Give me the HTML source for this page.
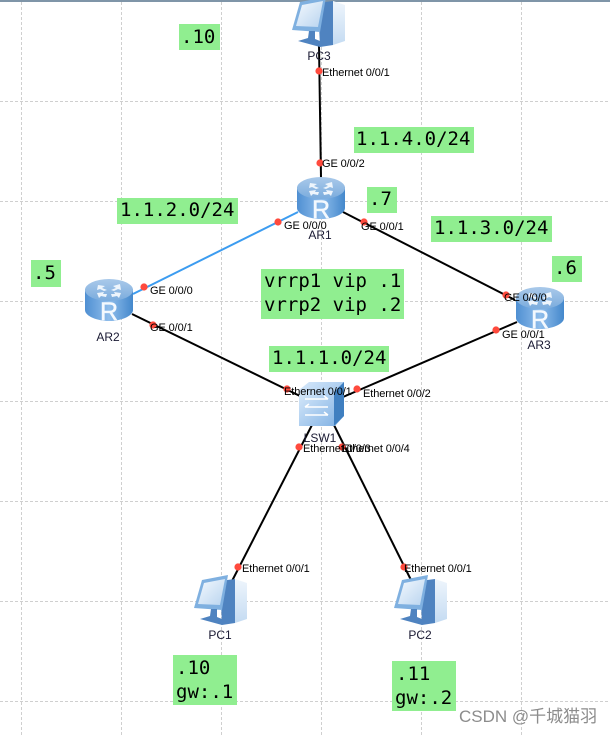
<!DOCTYPE html>
<html><head><meta charset="utf-8"><style>
html,body{margin:0;padding:0;background:#fff}
#c{position:relative;width:610px;height:735px;overflow:hidden}
svg{position:absolute;left:0;top:0}
.p{font-family:"Liberation Sans",sans-serif;font-size:11px;fill:#000;letter-spacing:-.1px}
.n{font-family:"Liberation Sans",sans-serif;font-size:12px;fill:#1a1a33}
.m{font-family:"DejaVu Sans Mono","Liberation Mono",monospace;font-size:19px;fill:#000}
.w{font-family:"Liberation Sans","Noto Sans CJK SC",sans-serif;font-size:17px;fill:#8c8c8c}
</style></head><body><div id="c">
<svg width="610" height="735" viewBox="0 0 610 735" xmlns="http://www.w3.org/2000/svg">
<defs>
<linearGradient id="rs" x1="0" x2="1" y1="0" y2="0"><stop offset="0" stop-color="#4f8fd2"/><stop offset=".5" stop-color="#8fbdeb"/><stop offset="1" stop-color="#4488cc"/></linearGradient>
<linearGradient id="rt" x1="0" x2="0" y1="0" y2="1"><stop offset="0" stop-color="#a9c9ea"/><stop offset="1" stop-color="#7bacdd"/></linearGradient>
<linearGradient id="sc" x1="0" x2="1" y1="0" y2="1"><stop offset="0" stop-color="#d6e8fa"/><stop offset="1" stop-color="#86b5e5"/></linearGradient>
<linearGradient id="tw" x1="0" x2="0" y1="0" y2="1"><stop offset="0" stop-color="#eef5fc"/><stop offset="1" stop-color="#c4dbf2"/></linearGradient>
<linearGradient id="scr" x1="0" x2="1" y1="0" y2="1"><stop offset="0" stop-color="#f4f9fe"/><stop offset="1" stop-color="#b9d4ef"/></linearGradient>
<g id="router">
<path d="M-24,-11 V10 C-24,16 -12,21 0,21 C12,21 24,16 24,10 V-11 Z" fill="url(#rs)"/>
<ellipse cx="0" cy="-10" rx="24" ry="11" fill="url(#rt)"/>
<path d="M-11,-15 L-4,-14 L-7,-12 L-2,-10 L-5,-9 L-9,-11 L-12,-10 Z M11,-16 L4,-14 L7,-12 L2,-10 L5,-9 L9,-11 L12,-10 Z M-12,-7 L-5,-8 L-6,-6 L-2,-6 L-3,-3 L-8,-4 L-10,-2 Z M12,-7 L5,-8 L6,-6 L2,-6 L3,-3 L8,-4 L10,-2 Z" fill="#eef5fc"/>
<text x="0" y="20" text-anchor="middle" font-family="Liberation Sans,sans-serif" font-size="25" fill="#f4f9fe" stroke="#f4f9fe" stroke-width=".5">R</text>
</g>
<g id="pc">
<path d="M26,6 L41,4 V48 L28,50 Z" fill="#4f83c0"/>
<path d="M41,4 L53,8 V44 L41,48 Z" fill="url(#tw)"/>
<path d="M8,5 L34,0 L28,35 L0,33 Z" fill="#7fb0e0"/>
<path d="M10,8 L31,4 L26,30 L4,29 Z" fill="url(#scr)"/>
<path d="M17,34 H23 V42 L28,44 V50 L6,44 L16,41 Z" fill="#4f83c0"/>
</g>
</defs>
<rect width="610" height="735" fill="#fff"/>
<rect x="0" y="0" width="610" height="2" fill="#7f95a8"/>
<g stroke="#cfcfcf" stroke-width="1" stroke-dasharray="3 2" fill="none">
<path d="M21.5,2V735M121.5,2V735M221.5,2V735M321.5,2V735M421.5,2V735M521.5,2V735"/>
<path d="M0,101.5H610M0,201.5H610M0,301.5H610M0,401.5H610M0,501.5H610M0,601.5H610M0,701.5H610"/>
</g>
<g fill="#90ee90">
<rect x="179" y="24" width="41" height="26"/>
<rect x="117" y="198" width="121" height="26"/>
<rect x="354" y="127" width="120" height="26"/>
<rect x="367" y="187" width="30" height="26"/>
<rect x="431" y="216" width="121" height="26"/>
<rect x="552" y="256" width="30" height="26"/>
<rect x="261" y="269" width="143" height="50"/>
<rect x="269" y="346" width="120" height="26"/>
<rect x="31" y="260" width="30" height="27"/>
<rect x="173" y="655" width="64" height="50"/>
<rect x="392" y="661" width="64" height="50"/>
</g>
<g stroke="#000" stroke-width="2" fill="none">
<path d="M319,45L321,178"/>
<path d="M343,212L515,300"/>
<path d="M517,322L343,397"/>
<path d="M132,314L300,396"/>
<path d="M313,423L232,581"/>
<path d="M333,423L411,580"/>
</g>
<path d="M298,212L133,294" stroke="#3c9cf0" stroke-width="2" fill="none"/>
<use href="#pc" x="292" y="-3"/>
<use href="#pc" x="194" y="575"/>
<use href="#pc" x="394" y="575"/>
<use href="#router" x="321" y="198"/>
<use href="#router" x="109" y="300"/>
<use href="#router" x="540" y="308"/>
<g>
<path d="M299,390L309,382H344V416L335,426H299Z" fill="url(#sc)"/>
<path d="M334,392L344,382V416L334,426Z" fill="#3f7fc0"/>
<path d="M299,392H334V426H299Z" fill="url(#sc)"/>
<path d="M305,399H328M328,399L324,396M305,407H328M305,407L309,404M305,415H328M328,415L324,412" stroke="#fff" stroke-width="1.6" fill="none"/>
</g>
<g fill="#ff4a3d">
<circle cx="319" cy="71" r="3.6"/><circle cx="320" cy="163" r="3.6"/>
<circle cx="278" cy="222" r="3.6"/><circle cx="364" cy="222" r="3.6"/>
<circle cx="506" cy="295" r="3.6"/><circle cx="496" cy="330" r="3.6"/>
<circle cx="144" cy="287" r="3.6"/><circle cx="153" cy="325" r="3.6"/>
<circle cx="287" cy="389" r="3.6"/><circle cx="357" cy="389" r="3.6"/>
<circle cx="299" cy="447" r="3.6"/><circle cx="342" cy="447" r="3.6"/>
<circle cx="238" cy="567" r="3.6"/><circle cx="404" cy="567" r="3.6"/>
</g>
<g class="p">
<text class="p" x="322" y="76">Ethernet 0/0/1</text>
<text class="p" x="322" y="167">GE 0/0/2</text>
<text class="p" x="284" y="229">GE 0/0/0</text>
<text class="p" x="361" y="230">GE 0/0/1</text>
<text class="p" x="504" y="301">GE 0/0/0</text>
<text class="p" x="502" y="338">GE 0/0/1</text>
<text class="p" x="150" y="294">GE 0/0/0</text>
<text class="p" x="150" y="331">GE 0/0/1</text>
<text class="p" x="284" y="395">Ethernet 0/0/1</text>
<text class="p" x="363" y="397">Ethernet 0/0/2</text>
<text class="p" x="303" y="452">Ethernet 0/0/3</text>
<text class="p" x="342" y="452">Ethernet 0/0/4</text>
<text class="p" x="242" y="572">Ethernet 0/0/1</text>
<text class="p" x="404" y="572">Ethernet 0/0/1</text>
</g>
<g>
<text class="n" x="319" y="60" text-anchor="middle">PC3</text>
<text class="n" x="320" y="239" text-anchor="middle">AR1</text>
<text class="n" x="108" y="341" text-anchor="middle">AR2</text>
<text class="n" x="539" y="349" text-anchor="middle">AR3</text>
<text class="n" x="320" y="442" text-anchor="middle">LSW1</text>
<text class="n" x="220" y="639" text-anchor="middle">PC1</text>
<text class="n" x="420" y="639" text-anchor="middle">PC2</text>
</g>
<g>
<text class="m" x="181" y="43">.10</text>
<text class="m" x="120" y="216">1.1.2.0/24</text>
<text class="m" x="356" y="145">1.1.4.0/24</text>
<text class="m" x="369" y="205">.7</text>
<text class="m" x="434" y="234">1.1.3.0/24</text>
<text class="m" x="554" y="274">.6</text>
<text class="m" x="264" y="287">vrrp1 vip .1</text>
<text class="m" x="264" y="311">vrrp2 vip .2</text>
<text class="m" x="272" y="364">1.1.1.0/24</text>
<text class="m" x="33" y="279">.5</text>
<text class="m" x="176" y="674">.10</text>
<text class="m" x="176" y="698">gw:.1</text>
<text class="m" x="396" y="680">.11</text>
<text class="m" x="395" y="704">gw:.2</text>
</g>
<text class="w" x="459" y="722">CSDN @千城猫羽</text>
</svg>
</div></body></html>
